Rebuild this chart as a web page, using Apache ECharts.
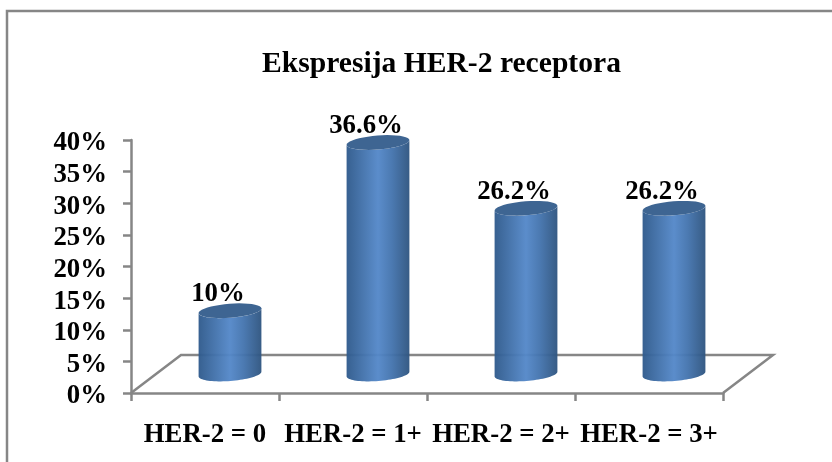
<!DOCTYPE html>
<html>
<head>
<meta charset="utf-8">
<style>
    html, body { margin: 0; padding: 0; background: #fff; }
    #chart { width: 832px; height: 462px; }
</style>
<script src="https://cdn.jsdelivr.net/npm/echarts@6/dist/echarts.min.js"></script>
</head>
<body>
<div id="chart"></div>
<script>
    const titleText = 'Ekspresija HER-2 receptora';
    const categories = ['HER-2 = 0', 'HER-2 = 1+', 'HER-2 = 2+', 'HER-2 = 3+'];
    const values = [10, 36.6, 26.2, 26.2];
    const yTicks = [0, 5, 10, 15, 20, 25, 30, 35, 40];

    const font = 'Liberation Serif';
    const axisGray = '#868686';
    const labelSize = 26.8;

    // front edge of the floor
    const front = { left: 131, right: 723, top: 140, bottom: 393 };
    // depth of the floor, the bars stand halfway back
    const depthX = 50, depthY = 38;
    const barRx = 31.5, barRy = 7, tilt = -4.5 * Math.PI / 180;

    // points of a tilted ellipse between two angles
    function arc(cx, cy, from, to) {
        let pts = [];
        for (let i = 0; i <= 40; i++) {
            let a = from + (to - from) * i / 40;
            let x = barRx * Math.cos(a), y = barRy * Math.sin(a);
            pts.push([cx + x * Math.cos(tilt) - y * Math.sin(tilt), cy + x * Math.sin(tilt) + y * Math.cos(tilt)]);
        }
        return pts;
    }

    function renderCylinder(params, api) {
        let top = api.coord([api.value(0), api.value(1)]);
        let base = api.coord([api.value(0), 0]);
        let side = arc(top[0], top[1], Math.PI, 0).concat(arc(base[0], base[1], 0, Math.PI));
        return {
            type: 'group',
            children: [
                {
                    type: 'polygon',
                    shape: { points: side },
                    style: {
                        opacity: 0.96,
                        fill: new echarts.graphic.LinearGradient(0, 0, 1, 0, [
                            { offset: 0, color: '#2f5a8c' },
                            { offset: 0.28, color: '#4474ae' },
                            { offset: 0.5, color: '#5488c9' },
                            { offset: 0.72, color: '#4474ae' },
                            { offset: 1, color: '#2f5580' }
                        ])
                    }
                },
                {
                    type: 'polygon',
                    shape: { points: arc(top[0], top[1], 0, Math.PI * 2) },
                    style: { fill: '#3e6592' }
                },
                {
                    type: 'text',
                    style: {
                        x: top[0] - 12,
                        y: top[1] - 3,
                        text: api.value(1) + '%',
                        font: 'bold ' + labelSize + 'px "' + font + '"',
                        fill: '#000',
                        align: 'center',
                        verticalAlign: 'bottom'
                    }
                }
            ]
        };
    }

    let chart = echarts.init(document.getElementById('chart'));
    let option = {
        animation: false,
        backgroundColor: '#fff',
        title: {
            text: titleText,
            left: 262,
            top: 49,
            padding: 0,
            textStyle: { fontFamily: font, fontWeight: 'bold', fontSize: 29.6, color: '#000' }
        },
        grid: [
            {
                left: front.left,
                top: front.top,
                width: front.right - front.left,
                height: front.bottom - front.top
            },
            {
                left: front.left + depthX / 2,
                top: front.top - depthY / 2,
                width: front.right - front.left,
                height: front.bottom - front.top
            }
        ],
        xAxis: [
            {
                type: 'category',
                gridIndex: 0,
                data: categories,
                axisLine: { lineStyle: { color: axisGray, width: 2.5 } },
                axisTick: { show: true, alignWithLabel: false, length: 8, lineStyle: { color: axisGray, width: 2.5 } },
                axisLabel: { interval: 0, margin: 29, fontFamily: font, fontWeight: 'bold', fontSize: labelSize, color: '#000' }
            },
            { type: 'category', gridIndex: 1, data: categories, show: false }
        ],
        yAxis: [
            {
                type: 'value',
                gridIndex: 0,
                min: yTicks[0],
                max: yTicks[yTicks.length - 1],
                interval: yTicks[1] - yTicks[0],
                axisLine: { show: true, lineStyle: { color: axisGray, width: 2.5 } },
                axisTick: { show: true, length: 8, lineStyle: { color: axisGray, width: 2.5 } },
                axisLabel: {
                    margin: 24,
                    formatter: '{t|{value}%}',
                    rich: {
                        t: { padding: [7, 0, 0, 0], fontFamily: font, fontWeight: 'bold', fontSize: labelSize, color: '#000' }
                    }
                },
                splitLine: { show: false }
            },
            {
                type: 'value',
                gridIndex: 1,
                min: yTicks[0],
                max: yTicks[yTicks.length - 1],
                show: false
            }
        ],
        graphic: [
            {
                // outer frame, only the left and top edges are in the picture
                type: 'polyline',
                shape: { points: [[7, 462], [7, 11], [832, 11]] },
                style: { stroke: axisGray, lineWidth: 2.5, fill: 'none' }
            },
            {
                // floor: left edge, back edge, right edge
                type: 'polyline',
                z: 0,
                shape: {
                    points: [
                        [front.left, front.bottom],
                        [front.left + depthX, front.bottom - depthY],
                        [front.right + depthX, front.bottom - depthY],
                        [front.right, front.bottom]
                    ]
                },
                style: { stroke: axisGray, lineWidth: 2.5, fill: 'none' }
            }
        ],
        series: [
            {
                type: 'custom',
                xAxisIndex: 1,
                yAxisIndex: 1,
                z: 5,
                clip: false,
                renderItem: renderCylinder,
                encode: { x: 0, y: 1 },
                data: categories.map((c, i) => [i, values[i]])
            }
        ]
    };
    chart.setOption(option);
</script>
</body>
</html>
